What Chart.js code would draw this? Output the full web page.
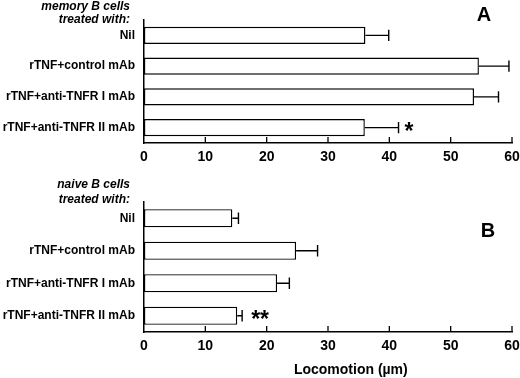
<!DOCTYPE html>
<html>
<head>
<meta charset="utf-8">
<script src="https://cdn.jsdelivr.net/npm/chart.js@4.4.0/dist/chart.umd.min.js"></script>
<style>
  html, body { margin: 0; padding: 0; background: #fff; }
  #wrap { position: relative; width: 520px; height: 378px; }
  .panel { position: absolute; left: 0; width: 520px; }
</style>
</head>
<body>
<div id="wrap">
  <div class="panel" style="top:0;height:175px;"><canvas id="chartA"></canvas></div>
  <div class="panel" style="top:175px;height:203px;"><canvas id="chartB"></canvas></div>
</div>
<script>
/* Locomotion of memory / naive B cells — two horizontal bar panels */

var treatments  = ['Nil', 'rTNF+control mAb', 'rTNF+anti-TNFR I mAb', 'rTNF+anti-TNFR II mAb'];
var memoryMeans = [36.1, 54.6, 53.8, 36.0];
var memoryErr   = [3.8, 4.9, 4.0, 5.5];
var memorySig   = ['', '', '', '*'];
var naiveMeans  = [14.4, 24.8, 21.7, 15.2];
var naiveErr    = [1.0, 3.5, 2.0, 0.8];
var naiveSig    = ['', '', '', '**'];
var xTicks      = [0, 10, 20, 30, 40, 50, 60];

var FONT = 'Arial, "Liberation Sans", Helvetica, sans-serif';

// error bars, stars, inward ticks, panel captions
var extrasPlugin = {
  id: 'extras',
  afterDatasetsDraw: function(chart, args, opts) {
    var ctx = chart.ctx;
    var xs = chart.scales.x;
    var meta = chart.getDatasetMeta(0);
    var area = chart.chartArea;
    ctx.save();
    ctx.strokeStyle = '#000';
    ctx.lineWidth = 1.4;
    // error bars
    opts.means.forEach(function(v, i) {
      var y = meta.data[i].y;
      var x0 = xs.getPixelForValue(v);
      var x1 = xs.getPixelForValue(v + opts.err[i]);
      var cap = meta.data[i].height * 0.32;
      ctx.beginPath();
      ctx.moveTo(x0, y); ctx.lineTo(x1, y);
      ctx.moveTo(x1, y - cap); ctx.lineTo(x1, y + cap);
      ctx.stroke();
      if (opts.sig[i]) {
        ctx.fillStyle = '#000';
        ctx.font = 'bold 23px ' + FONT;
        ctx.textAlign = 'left';
        ctx.textBaseline = 'middle';
        ctx.fillText(opts.sig[i], x1 + opts.sigGap, y + 5);
      }
    });
    // inward ticks on x axis
    ctx.lineWidth = 1.3;
    xTicks.forEach(function(t) {
      if (t === 0) return;
      var x = xs.getPixelForValue(t);
      ctx.beginPath();
      ctx.moveTo(x, area.bottom); ctx.lineTo(x, area.bottom - 6);
      ctx.stroke();
    });
    // captions
    ctx.fillStyle = '#000';
    ctx.textAlign = 'right';
    ctx.textBaseline = 'middle';
    ctx.font = 'italic bold 12px ' + FONT;
    ctx.fillText(opts.caption[0], area.left - 14, opts.captionY[0]);
    ctx.fillText(opts.caption[1], area.left - 14, opts.captionY[1]);
    ctx.textAlign = 'center';
    ctx.font = 'bold 20px ' + FONT;
    ctx.fillText(opts.letter, opts.letterX, opts.letterY);
    if (opts.xTitle) {
      ctx.font = 'bold 14px ' + FONT;
      ctx.fillText(opts.xTitle, area.left + (area.right - area.left) * 0.562, opts.xTitleY);
    }
    ctx.restore();
  }
};

function makePanel(id, means, err, sig, extras, topPad, xHeight) {
  return new Chart(document.getElementById(id), {
    type: 'bar',
    data: {
      labels: treatments,
      datasets: [{
        data: means,
        backgroundColor: '#fff',
        borderColor: '#000',
        borderWidth: 1.4,
        borderSkipped: false,
        categoryPercentage: 1,
        barPercentage: 0.56
      }]
    },
    options: {
      indexAxis: 'y',
      responsive: true,
      maintainAspectRatio: false,
      animation: false,
      layout: { padding: { top: topPad, right: 8, left: 0, bottom: 0 } },
      plugins: { legend: { display: false }, tooltip: { enabled: false }, extras: extras },
      scales: {
        x: {
          min: 0, max: 60,
          afterFit: function(s) { s.height = xHeight; s.paddingRight = 0; },
          afterBuildTicks: function(s) { s.ticks = xTicks.map(function(v){ return { value: v }; }); },
          grid: { display: false, drawTicks: false },
          border: { display: true, color: '#000', width: 1.5 },
          ticks: { color: '#000', padding: 6, font: { family: FONT, size: 14, weight: 'bold' } }
        },
        y: {
          afterFit: function(s) { s.width = 144; },
          grid: { display: false, drawTicks: false },
          border: { display: true, color: '#000', width: 1.5 },
          ticks: { color: '#000', padding: 9, font: { family: FONT, size: 12, weight: 'bold' } }
        }
      }
    },
    plugins: [extrasPlugin]
  });
}

makePanel('chartA', memoryMeans, memoryErr, memorySig, {
  means: memoryMeans, err: memoryErr, sig: memorySig, sigGap: 6,
  caption: ['memory B cells', 'treated with:'], captionY: [7, 20],
  letter: 'A', letterX: 484, letterY: 15
}, 20, 32);

makePanel('chartB', naiveMeans, naiveErr, naiveSig, {
  means: naiveMeans, err: naiveErr, sig: naiveSig, sigGap: 9,
  caption: ['naive B cells', 'treated with:'], captionY: [10, 25],
  letter: 'B', letterX: 488, letterY: 56,
  xTitle: 'Locomotion (\u00b5m)', xTitleY: 195
}, 27, 46);
</script>
</body>
</html>
